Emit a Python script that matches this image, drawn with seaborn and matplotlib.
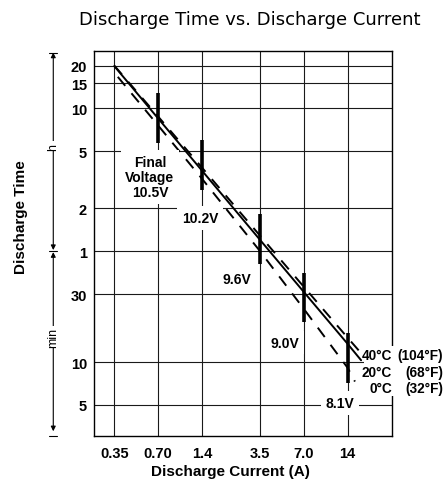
import pandas as pd
import matplotlib
matplotlib.use('Agg')
import matplotlib.pyplot as plt
from matplotlib.patches import Rectangle
from matplotlib.ticker import NullLocator
import seaborn as sns

sns.set_style('white')
plt.rcParams['font.family'] = ['Liberation Sans', 'DejaVu Sans']
plt.rcParams['text.color'] = 'black'
plt.rcParams['xtick.color'] = 'black'
plt.rcParams['ytick.color'] = 'black'
plt.rcParams['axes.labelcolor'] = 'black'

# values: current in A, discharge time in minutes
current_40c = [0.35, 0.70, 1.4, 3.5, 7.0, 14.0, 17.9]
minutes_40c = [1200, 527, 231, 77, 33.7, 14.8, 11.1]
current_20c = [0.35, 0.70, 1.4, 3.5, 7.0, 14.0, 17.3]
minutes_20c = [1190, 511, 220, 72, 31, 13.4, 10.3]
current_0c = [0.37, 0.70, 1.4, 3.5, 7.0, 14.0, 15.7]
minutes_0c = [1000, 456, 193, 60, 23.6, 9.1, 7.3]

# final voltage ranges (vertical bars)
bar_current = [0.70, 1.4, 3.5, 7.0, 14.0]
bar_high = [767, 361, 110, 42, 15.9]
bar_low = [342, 161, 49, 19, 7.1]
final_voltages = ['Final\nVoltage\n10.5V', '10.2V', '9.6V', '9.0V', '8.1V']
voltage_label_x = [0.615, 1.356, 2.42, 5.2, 12.4]
voltage_label_y = [198, 102, 38.2, 13.7, 5.15]

temp_c = ['40°C', '20°C', '0°C']
temp_f = ['(104°F)', '(68°F)', '(32°F)']
temp_label_y = [11.2, 8.5, 6.56]

x_ticks = [0.35, 0.70, 1.4, 3.5, 7.0, 14]
x_tick_labels = ['0.35', '0.70', '1.4', '3.5', '7.0', '14']
y_ticks = [1200, 900, 600, 300, 120, 60, 30, 10, 5]
y_tick_labels = ['20', '15', '10', '5', '2', '1', '30', '10', '5']

df = pd.concat([
    pd.DataFrame({'current': current_40c, 'minutes': minutes_40c, 'temp': temp_c[0]}),
    pd.DataFrame({'current': current_20c, 'minutes': minutes_20c, 'temp': temp_c[1]}),
    pd.DataFrame({'current': current_0c, 'minutes': minutes_0c, 'temp': temp_c[2]}),
])

fig = plt.figure(figsize=(4.45, 4.89), dpi=100)
ax = fig.add_axes([0.2112, 0.1063, 0.6697, 0.7873])

sns.lineplot(data=df, x='current', y='minutes', style='temp',
             dashes={temp_c[0]: (6, 5), temp_c[1]: '', temp_c[2]: (6, 5)},
             color='black', lw=1.4, estimator=None, sort=False,
             legend=False, ax=ax, zorder=2)
ax.vlines(bar_current, bar_low, bar_high, color='black', lw=2.6, zorder=5)

ax.set_xscale('log')
ax.set_yscale('log')
ax.set_xlim(0.254, 28.2)
ax.set_ylim(3.03, 1517)
ax.set_xticks(x_ticks, labels=x_tick_labels)
ax.set_yticks(y_ticks, labels=y_tick_labels)
ax.xaxis.set_minor_locator(NullLocator())
ax.yaxis.set_minor_locator(NullLocator())
ax.tick_params(length=0, labelsize=10.5)
ax.tick_params(axis='x', pad=7)
ax.tick_params(axis='y', pad=5)
for lab in ax.get_xticklabels() + ax.get_yticklabels():
    lab.set_fontweight('bold')
ax.grid(True, which='major', color='#1a1a1a', lw=0.8)
ax.set_axisbelow(True)
for s in ax.spines.values():
    s.set_color('black')
    s.set_linewidth(1.0)
ax.set_xlabel('')
ax.set_ylabel('')

for txt, x, y in zip(final_voltages, voltage_label_x, voltage_label_y):
    ax.text(x, y, txt, ha='center', va='center', fontsize=10, fontweight='bold',
            linespacing=1.1, zorder=6,
            bbox=dict(boxstyle='square,pad=0.35', fc='white', ec='none'))

# temperature labels at the line ends
ax.add_patch(Rectangle((0.905, 0.104), 0.29, 0.13, transform=ax.transAxes,
                       facecolor='white', edgecolor='none', clip_on=False, zorder=3))
ytrans = ax.get_yaxis_transform()
for c, f, y in zip(temp_c, temp_f, temp_label_y):
    ax.text(1.0, y, c, transform=ytrans, ha='right', va='center', fontsize=9.8,
            fontweight='bold', zorder=6)
    ax.text(1.171, y, f, transform=ytrans, ha='right', va='center', fontsize=9.8,
            fontweight='bold', zorder=6)

# h / min unit arrows
ux = -0.1366
y0, y1 = ax.get_ylim()
arrow = dict(arrowstyle='<|-|>', color='black', lw=0.8, shrinkA=0, shrinkB=0,
             mutation_scale=7)
ax.annotate('', xy=(ux, y1 * 0.975), xytext=(ux, 61), xycoords=ytrans,
            textcoords=ytrans, arrowprops=arrow, annotation_clip=False)
ax.annotate('', xy=(ux, 59), xytext=(ux, y0 * 1.08), xycoords=ytrans,
            textcoords=ytrans, arrowprops=arrow, annotation_clip=False)
for v in [y1 * 0.975, 60, y0]:
    ax.plot([ux - 0.014, ux + 0.014], [v, v], transform=ytrans, color='black',
            lw=0.8, clip_on=False)
ax.text(ux, 327, 'h', transform=ytrans, rotation=90, ha='center', va='center',
        fontsize=9, bbox=dict(fc='white', ec='none', pad=1))
ax.text(ux, 15, 'min', transform=ytrans, rotation=90, ha='center', va='center',
        fontsize=9, bbox=dict(fc='white', ec='none', pad=1))

fig.text(0.517, 0.0354, 'Discharge Current (A)', ha='center', va='center',
         fontsize=11, fontweight='bold')
fig.text(0.0472, 0.556, 'Discharge Time', rotation=90, ha='center', va='center',
         fontsize=11, fontweight='bold')
fig.text(0.561, 1 - 20 / 489, 'Discharge Time vs. Discharge Current', ha='center',
         va='center', fontsize=13, family='DejaVu Sans')

fig.savefig('out.png', dpi=100)
